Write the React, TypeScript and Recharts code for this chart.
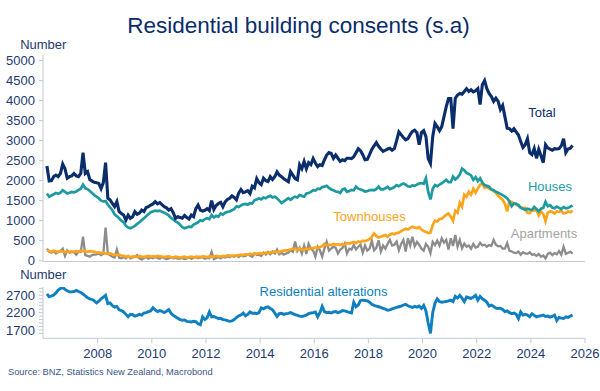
import React from 'react';
import { LineChart, Line, XAxis, YAxis } from 'recharts';

// Monthly data, Feb 2006 .. Jul 2025
const total = [
  2366, 1990, 2000, 2100, 2140, 2100, 2180, 2415, 2300, 2060, 2100,
  2120, 2180, 2120, 2100, 2180, 2700, 2180, 2225, 2030, 1990, 1960, 1950,
  1930, 1800, 1950, 2450, 1560, 1520, 1430, 1350, 1475, 1225, 1180, 1140,
  1016, 1140, 1060, 1100, 1225, 1160, 1190, 1266, 1230, 1330, 1350, 1390,
  1420, 1475, 1420, 1450, 1400, 1350, 1320, 1266, 1300, 1200, 1060, 1100,
  1080, 1060, 1130, 1080, 1040, 1140, 1100, 1300, 1391, 1266, 1240, 1260,
  1300, 1250, 1500, 1280, 1380, 1430, 1460, 1350, 1470, 1530, 1560, 1620,
  1580, 1520, 1690, 1780, 1700, 1720, 1750, 1680, 1860, 1820, 2050, 1950,
  1900, 2060, 2000, 1980, 2100, 2030, 2100, 2220, 2140, 2100, 2050, 2010,
  1975, 2225, 2140, 2050, 2020, 2400, 2300, 2480, 2300, 2450, 2400, 2550,
  2440, 2350, 2400, 2380, 2520, 2640, 2700, 2680, 2558, 2640, 2560, 2480,
  2520, 2500, 2560, 2560, 2550, 2600, 2700, 2800, 2750, 2650, 2520, 2530,
  2650, 2780, 2870, 2950, 2860, 2790, 2730, 2760, 2790, 2810, 2760, 2800,
  3000, 3220, 3150, 3080, 3020, 3050, 3150, 3230, 3260, 3200, 2900, 3200,
  3250, 3100, 2550, 2430, 3100, 3430, 3350, 3250, 3350, 3600, 3850, 4050,
  4050, 3300, 4060, 4140, 4180, 4160, 4230, 4300, 4230, 4270, 4220, 4250,
  4300, 3900, 4400, 4500, 4300, 4180, 4100, 3980, 4060, 3980, 3780, 3880,
  3600, 3310, 3300, 3240, 3300, 3220, 3140, 2980, 2830, 2900, 3050, 2700,
  2650, 2800, 2560, 2780, 2620, 2450, 2900, 2820, 2790, 2760, 2800, 2790,
  2800, 2870, 3050, 2700, 2790, 2810, 2880,
];

const houses = [
  1680, 1600, 1630, 1660, 1690, 1670, 1700, 1760, 1720, 1680, 1700,
  1720, 1710, 1730, 1770, 1800, 1900, 1810, 1790, 1740, 1690, 1640, 1600,
  1560, 1500, 1480, 1490, 1400, 1330, 1260, 1160, 1110, 1060, 1000, 960,
  870, 830, 810, 840, 870, 920, 960, 1010, 1060, 1110, 1160, 1210,
  1230, 1250, 1240, 1250, 1220, 1200, 1170, 1130, 1070, 1030, 980, 950,
  900, 840, 810, 830, 850, 840, 900, 930, 960, 1010, 990, 1040,
  1060, 1040, 1140, 1080, 1120, 1100, 1180, 1150, 1200, 1220, 1230, 1260,
  1290, 1360, 1340, 1380, 1410, 1420, 1400, 1440, 1430, 1510, 1530, 1560,
  1530, 1580, 1560, 1600, 1620, 1580, 1600, 1560, 1500, 1440, 1480, 1520,
  1560, 1520, 1570, 1600, 1580, 1640, 1620, 1600, 1680, 1690, 1720, 1760,
  1750, 1800, 1790, 1840, 1850, 1870, 1820, 1780, 1760, 1730, 1720, 1690,
  1780, 1800, 1720, 1740, 1770, 1760, 1850, 1800, 1780, 1760, 1730, 1740,
  1760, 1770, 1760, 1790, 1850, 1780, 1780, 1810, 1850, 1790, 1810, 1840,
  1890, 1860, 1900, 1930, 1900, 1860, 1850, 1880, 1870, 1900, 1930, 1940,
  1920, 2060, 1720, 1530, 1800, 1890, 1860, 1900, 1930, 1980, 2020, 1960,
  1960, 2100, 2030, 2080, 2150, 2300, 2260, 2190, 2170, 2130, 2020, 2090,
  1990, 2060, 1950, 1890, 1870, 1850, 1780, 1760, 1720, 1700, 1670, 1640,
  1600, 1560, 1480, 1360, 1430, 1420, 1390, 1320, 1300, 1270, 1300, 1280,
  1270, 1340, 1290, 1230, 1300, 1320, 1470, 1360, 1390, 1330, 1310, 1350,
  1320, 1290, 1340, 1310, 1320, 1350, 1380,
];

const townhouses = [
  260, 240, 220, 250, 230, 220, 240, 230, 210, 230, 220,
  230, 220, 240, 230, 250, 240, 230, 220, 240, 230, 220, 200,
  210, 190, 200, 180, 170, 180, 160, 150, 140, 150, 130, 120,
  100, 110, 90, 100, 110, 90, 120, 100, 90, 110, 120, 100,
  110, 100, 120, 110, 100, 90, 100, 110, 90, 80, 100, 90,
  80, 90, 100, 80, 90, 100, 90, 80, 100, 90, 110, 100,
  90, 100, 110, 100, 120, 110, 100, 120, 110, 130, 120, 130,
  130, 120, 140, 150, 140, 160, 150, 170, 160, 180, 170, 190,
  180, 170, 200, 190, 210, 200, 230, 220, 210, 240, 250, 260,
  260, 280, 300, 290, 270, 310, 280, 270, 300, 280, 320, 310,
  330, 310, 340, 360, 420, 380, 400, 390, 420, 400, 410, 390,
  420, 400, 440, 430, 450, 470, 440, 480, 460, 500, 490, 510,
  540, 600, 680, 620, 580, 600, 620, 640, 600, 650, 680, 660,
  690, 700, 740, 770, 800, 780, 820, 850, 830, 810, 840, 780,
  740, 720, 690, 700, 890, 1000, 980, 1040, 1050, 1100, 1150, 1180,
  1100, 1000, 1250, 1200, 1450, 1350, 1650, 1600, 1720, 1650, 1800, 1700,
  1800, 1900, 1930, 1820, 1850, 1800, 1780, 1740, 1700, 1620, 1570, 1520,
  1420, 1230, 1490, 1470, 1440, 1400, 1370, 1340, 1310, 1320, 1200, 1190,
  1260, 1250, 1270, 1130, 1230, 1170, 990, 1200, 1230, 1220, 1180, 1230,
  1220, 1250, 1180, 1200, 1230, 1210, 1250,
];

const apartments = [
  300, 220, 200, 240, 180, 220, 240, 300, 120, 260, 200,
  220, 210, 150, 230, 220, 600, 140, 120, 100, 140, 150, 160,
  180, 140, 170, 830, 180, 140, 100, 80, 280, 80, 60, 90,
  60, 120, 60, 80, 100, 140, 60, 30, 60, 90, 50, 80,
  60, 90, 70, 50, 90, 60, 40, 60, 80, 60, 70, 50,
  50, 70, 40, 60, 80, 50, 70, 100, 60, 80, 90, 50,
  70, 60, 220, 40, 70, 90, 60, 100, 80, 110, 90, 120,
  100, 130, 90, 140, 110, 120, 150, 130, 100, 180, 140, 150,
  120, 200, 150, 220, 160, 230, 180, 280, 160, 200, 150, 180,
  200, 260, 220, 480, 240, 330, 180, 380, 170, 420, 300, 250,
  100, 350, 260, 100, 300, 470, 250, 300, 350, 320, 180, 280,
  320, 430, 180, 300, 280, 390, 280, 350, 400, 200, 380, 250,
  300, 500, 260, 320, 510, 230, 380, 300, 420, 520, 380, 400,
  480, 260, 420, 520, 230, 560, 380, 600, 360, 470, 400, 300,
  250, 420, 350, 190, 470, 390, 500, 380, 560, 450, 520, 280,
  560, 370, 640, 350, 520, 310, 430, 350, 380, 300, 420, 330,
  350, 450, 380, 400, 350, 390, 370, 520, 400, 360, 370, 300,
  300, 440, 250, 230, 200, 190, 230, 150, 210, 180, 170, 210,
  150, 160, 120, 170, 100, 130, 60, 170, 200, 140, 190, 160,
  240, 150, 350, 170, 200, 220, 180,
];

const alterations = [
  2740, 2660, 2680, 2710, 2770, 2850, 2900, 2930, 2870, 2830, 2800,
  2800, 2810, 2840, 2810, 2780, 2740, 2680, 2630, 2600, 2580, 2540, 2480,
  2530, 2600, 2650, 2700, 2460, 2480, 2400, 2360, 2380, 2280, 2260, 2220,
  2150, 2080, 2150, 2140, 2100, 2120, 2150, 2130, 2190, 2200, 2230, 2250,
  2340, 2280, 2230, 2260, 2240, 2200, 2240, 2290, 2180, 2120, 2080, 2040,
  2000, 1980, 1990, 1950, 1940, 1930, 1950, 1940, 1880, 1850, 2080, 2000,
  2050, 2220, 2080, 2090, 2060, 2030, 2040, 2000, 1990, 1970, 1950, 1960,
  2000, 2060, 2110, 2130, 2190, 2110, 2150, 2220, 2180, 2190, 2170, 2200,
  2340, 2310, 2350, 2370, 2320, 2280, 2190, 2090, 2170, 2180, 2150, 2170,
  2180, 2200, 2170, 2140, 2120, 2100, 2090, 2110, 2130, 2170, 2190, 2200,
  2220, 2080, 2200, 2380, 2230, 2200, 2210, 2190, 2220, 2230, 2200, 2220,
  2260, 2250, 2230, 2210, 2190, 2500, 2370, 2420, 2550, 2560, 2550, 2540,
  2500, 2440, 2410, 2390, 2370, 2350, 2320, 2300, 2270, 2280, 2310, 2330,
  2350, 2370, 2390, 2420, 2440, 2400, 2370, 2350, 2380, 2360, 2390, 2320,
  2410, 2250, 1900, 1600, 2200, 2470, 2600, 2520, 2500, 2510, 2520, 2540,
  2560, 2520, 2670, 2620, 2700, 2620, 2520, 2650, 2630, 2610, 2650, 2700,
  2560, 2670, 2600, 2560, 2500, 2390, 2420, 2380, 2330, 2320, 2330, 2290,
  2230, 2250, 2200, 2170, 2190, 2150, 2030, 2220, 2130, 2150, 2130, 2080,
  2170, 2120, 2080, 2100, 2110, 2130, 2090, 2100, 2070, 2090, 2130, 1970,
  2060, 2040, 2030, 2080, 2060, 2100, 2130,
];

const topTicks = [0, 500, 1000, 1500, 2000, 2500, 3000, 3500, 4000, 4500, 5000];
const bottomTicks = [1600, 1700, 1800, 1900, 2000, 2100, 2200, 2300, 2400, 2500, 2600, 2700, 2800, 2900];
const bottomLabels = [1700, 2200, 2700];
const yearTicks = [2008, 2010, 2012, 2014, 2016, 2018, 2020, 2022, 2024, 2026];

const FIRST_MONTH = 1; // months after Jan 2006

const data = total.map((v, i) => ({
  t: 2006 + (FIRST_MONTH + i + 0.5) / 12,
  total: v,
  houses: houses[i],
  townhouses: townhouses[i],
  apartments: apartments[i],
  alterations: alterations[i],
}));

const NAVY = '#0b2c6b';
const TEXT = '#1d3a70';
const AXIS = '#c3c8d2';
const C_TOTAL = '#0a2d6c';
const C_HOUSES = '#1c9aa0';
const C_TOWN = '#fba41c';
const C_APT = '#8c8c8c';
const C_ALT = '#0e7fc0';
const FONT = '"Liberation Sans", Arial, Helvetica, sans-serif';
const X_DOMAIN: [number, number] = [2005.98, 2026];

export default function App() {
  const tickStyle = { fill: TEXT, fontSize: 13, fontFamily: FONT };
  return (
    <div style={{ position: 'absolute', left: 0, top: 0, width: 600, height: 391, background: '#fff', fontFamily: FONT }}>
      <div style={{ position: 'absolute', left: 0, top: 0 }}>
        <LineChart width={600} height={270} data={data} margin={{ top: 55, right: 15, bottom: 7.5, left: 0 }}>
          <XAxis type="number" dataKey="t" domain={X_DOMAIN} allowDataOverflow tick={false} tickLine={false} height={1} axisLine={{ stroke: AXIS }} />
          <YAxis type="number" domain={[-20, 5140]} allowDataOverflow ticks={topTicks} interval={0} width={43} tickSize={4} tickMargin={4}
            axisLine={{ stroke: AXIS }} tickLine={{ stroke: AXIS }} tick={tickStyle} />
          <Line type="linear" dataKey="apartments" stroke={C_APT} strokeWidth={2.3} dot={false} isAnimationActive={false} />
          <Line type="linear" dataKey="townhouses" stroke={C_TOWN} strokeWidth={2.7} dot={false} isAnimationActive={false} />
          <Line type="linear" dataKey="houses" stroke={C_HOUSES} strokeWidth={2.7} dot={false} isAnimationActive={false} />
          <Line type="linear" dataKey="total" stroke={C_TOTAL} strokeWidth={3.1} dot={false} isAnimationActive={false} />
        </LineChart>
      </div>
      <div style={{ position: 'absolute', left: 0, top: 0 }}>
        <LineChart width={600} height={391} data={data} margin={{ top: 287, right: 15, bottom: 27.7, left: 0 }}>
          <XAxis type="number" dataKey="t" domain={X_DOMAIN} allowDataOverflow ticks={yearTicks} interval={0} height={25}
            tickSize={5} tickMargin={5} axisLine={{ stroke: AXIS }} tickLine={{ stroke: AXIS }} tick={tickStyle} />
          <YAxis type="number" domain={[1460, 2940]} allowDataOverflow ticks={bottomTicks} interval={0} width={43} tickSize={4} tickMargin={4}
            axisLine={{ stroke: AXIS }} tickLine={{ stroke: AXIS }} tick={tickStyle}
            tickFormatter={(v: number) => (bottomLabels.includes(v) ? String(v) : '')} />
          <Line type="linear" dataKey="alterations" stroke={C_ALT} strokeWidth={2.9} dot={false} isAnimationActive={false} />
        </LineChart>
      </div>
      <svg width={600} height={391} style={{ position: 'absolute', left: 0, top: 0, pointerEvents: 'none' }} fontFamily={FONT}>
        <text x={298.5} y={33} textAnchor="middle" fontSize={22.5} fill={NAVY}>Residential building consents (s.a)</text>
        <text x={43.3} y={48.5} textAnchor="middle" fontSize={13} fill={TEXT}>Number</text>
        <text x={43.3} y={279} textAnchor="middle" fontSize={13} fill={TEXT}>Number</text>
        <text x={542} y={116.5} textAnchor="middle" fontSize={13} fill={C_TOTAL}>Total</text>
        <text x={550} y={190.5} textAnchor="middle" fontSize={13} fill={C_HOUSES}>Houses</text>
        <text x={369.5} y={221} textAnchor="middle" fontSize={13} fill={C_TOWN}>Townhouses</text>
        <text x={544} y={238} textAnchor="middle" fontSize={13} fill="#a3a3a3">Apartments</text>
        <text x={323.5} y={296.3} textAnchor="middle" fontSize={13} fill={C_ALT}>Residential alterations</text>
        <text x={8} y={375} fontSize={9.3} fill="#3b5688">Source: BNZ, Statistics New Zealand, Macrobond</text>
      </svg>
    </div>
  );
}
